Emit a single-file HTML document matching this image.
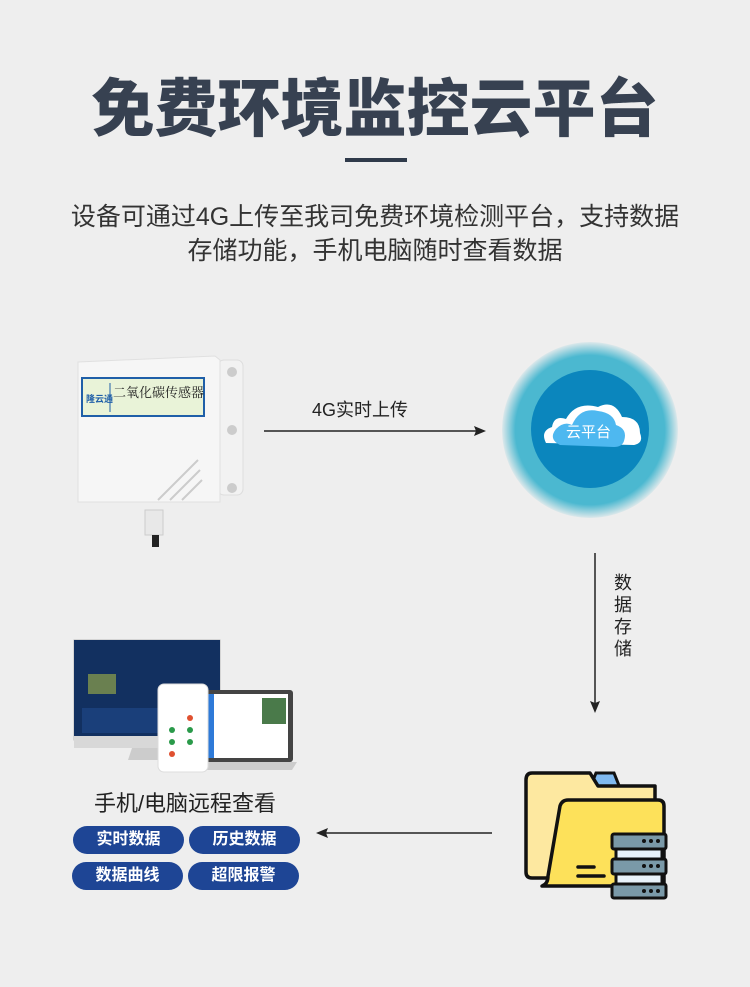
<!DOCTYPE html><html><head><meta charset="utf-8"><style>
body{margin:0;width:750px;height:987px;background:#eeeeee;position:relative;overflow:hidden;font-family:"Liberation Sans","Noto Sans CJK SC",sans-serif}
.a{position:absolute}
.btn{position:absolute;width:111px;height:28px;border-radius:14px;background:#1e4595;color:#fff;font-size:16px;font-weight:bold;text-align:center;line-height:28px}
</style></head><body>
<div class="a" style="left:0;width:750px;top:65px;text-align:center;font-size:63px;font-weight:900;color:#374151;line-height:90px">免费环境监控云平台</div>
<div class="a" style="left:345px;top:158px;width:62px;height:4px;background:#2f3a4a"></div>
<div class="a" style="left:0;width:750px;top:200px;text-align:center;font-size:25px;color:#333;line-height:34px;white-space:nowrap">设备可通过4G上传至我司免费环境检测平台，支持数据<br>存储功能，手机电脑随时查看数据</div>

<!-- sensor -->
<svg class="a" style="left:70px;top:350px" width="180" height="200">
<rect x="75" y="160" width="18" height="25" fill="#e8e8e8" stroke="#ccc"/>
<rect x="82" y="185" width="7" height="12" fill="#222"/>
<rect x="148" y="10" width="25" height="135" rx="6" fill="#f2f2f2" stroke="#ddd"/>
<circle cx="162" cy="22" r="5" fill="#ccc"/><circle cx="162" cy="80" r="5" fill="#ccc"/><circle cx="162" cy="138" r="5" fill="#ccc"/>
<path d="M8 12 L145 6 L150 10 L150 152 L8 152 Z" fill="#f6f6f6" stroke="#e0e0e0"/>
<rect x="12" y="28" width="122" height="38" fill="#e9f3d8" stroke="#1f5fa8" stroke-width="2"/>
<text x="16" y="52" font-size="9" fill="#1f5fa8" font-weight="bold">隆云通</text>
<line x1="40" y1="33" x2="40" y2="62" stroke="#1f5fa8"/>
<text x="43" y="47" font-size="13" font-family="Noto Serif CJK SC,serif" fill="#222">二氧化碳传感器</text>
<path d="M88 150 L128 110 M100 150 L130 120 M112 150 L132 130" stroke="#ccc" stroke-width="2"/>
</svg>

<div class="a" style="left:312px;top:396px;font-size:18px;color:#222">4G实时上传</div>
<svg class="a" style="left:264px;top:424px" width="226" height="14"><line x1="0" y1="7" x2="216" y2="7" stroke="#222" stroke-width="1.5"/><path d="M222 7 L210 2 L212 7 L210 12Z" fill="#222"/></svg>

<!-- cloud -->
<div class="a" style="left:502px;top:342px;width:176px;height:176px;border-radius:50%;background:radial-gradient(circle,#4bb8d0 60%,rgba(75,184,208,0) 72%)"></div>
<div class="a" style="left:531px;top:370px;width:118px;height:118px;border-radius:50%;background:#0b86bd"></div>
<svg class="a" style="left:536px;top:395px" width="112" height="60">
<path d="M10 48 Q4 36 16 32 Q18 20 30 24 Q40 6 62 12 Q78 4 86 22 Q104 22 104 38 Q108 48 98 50 Z" fill="#fff"/>
<path d="M24 50 Q12 44 20 34 Q28 26 36 30 Q44 12 62 16 Q78 18 80 30 Q92 34 88 46 Q86 52 78 52 Z" fill="#4eb8f0"/>
<text x="30" y="42" font-size="15" fill="#fff">云平台</text>
</svg>

<!-- vertical arrow -->
<svg class="a" style="left:588px;top:553px" width="14" height="162"><line x1="7" y1="0" x2="7" y2="150" stroke="#222" stroke-width="1.5"/><path d="M7 160 L2 148 L7 150 L12 148Z" fill="#222"/></svg>
<div class="a" style="left:614px;top:572px;width:20px;font-size:18px;line-height:22px;color:#222">数据存储</div>

<!-- folder -->
<svg class="a" style="left:520px;top:768px" width="155" height="132">
<path d="M76 5 L94 5 L100 20 L70 20Z" fill="#7fb9f0" stroke="#111" stroke-width="3"/>
<path d="M12 5 L70 5 L78 18 L135 18 L135 110 L12 110 Q6 110 6 104 L6 12 Q6 5 12 5Z" fill="#fde8a0" stroke="#111" stroke-width="3.5" stroke-linejoin="round"/>
<path d="M48 32 L138 32 Q144 32 144 38 L144 118 L22 118 Q28 116 28 108 L40 38 Q42 32 48 32Z" fill="#fde15a" stroke="#111" stroke-width="3.5" stroke-linejoin="round"/>
<path d="M58 99 L74 99 M58 108 L84 108" stroke="#111" stroke-width="3.5" stroke-linecap="round"/>
<rect x="92" y="66" width="54" height="15" rx="2" fill="#7a99a8" stroke="#111" stroke-width="3"/>
<rect x="96" y="81" width="46" height="10" fill="#e8f2fa" stroke="#111" stroke-width="3"/>
<rect x="92" y="91" width="54" height="15" rx="2" fill="#7a99a8" stroke="#111" stroke-width="3"/>
<rect x="96" y="106" width="46" height="10" fill="#e8f2fa" stroke="#111" stroke-width="3"/>
<rect x="92" y="116" width="54" height="14" rx="2" fill="#7a99a8" stroke="#111" stroke-width="3"/>
<g fill="#111"><circle cx="124" cy="73" r="2"/><circle cx="131" cy="73" r="2"/><circle cx="138" cy="73" r="2"/><circle cx="124" cy="98" r="2"/><circle cx="131" cy="98" r="2"/><circle cx="138" cy="98" r="2"/><circle cx="124" cy="123" r="2"/><circle cx="131" cy="123" r="2"/><circle cx="138" cy="123" r="2"/></g>
</svg>

<svg class="a" style="left:316px;top:826px" width="178" height="14"><line x1="8" y1="7" x2="176" y2="7" stroke="#222" stroke-width="1.5"/><path d="M0 7 L12 2 L10 7 L12 12Z" fill="#222"/></svg>

<!-- devices -->
<svg class="a" style="left:72px;top:638px" width="225" height="135">
<rect x="2" y="2" width="146" height="100" fill="#0d1a3a" stroke="#bbb"/>
<rect x="2" y="2" width="146" height="96" fill="#123060"/>
<rect x="16" y="36" width="28" height="20" fill="#6a8050"/>
<rect x="10" y="70" width="130" height="25" fill="#1a3f7a"/>
<rect x="2" y="98" width="146" height="12" fill="#d8d8d8"/>
<path d="M60 110 L90 110 L94 122 L56 122Z" fill="#ccc"/>
<rect x="125" y="52" width="96" height="72" rx="3" fill="#444"/>
<rect x="130" y="56" width="86" height="64" fill="#fff"/>
<rect x="130" y="56" width="12" height="64" fill="#2e7ad8"/>
<rect x="190" y="60" width="24" height="26" fill="#4a7a4a"/>
<path d="M120 124 L225 124 L220 132 L125 132Z" fill="#ccc"/>
<rect x="86" y="46" width="50" height="88" rx="6" fill="#fff" stroke="#ddd"/>
<g fill="#2a9a4a"><circle cx="100" cy="92" r="3"/><circle cx="118" cy="92" r="3"/><circle cx="100" cy="104" r="3"/><circle cx="118" cy="104" r="3"/></g>
<g fill="#e05030"><circle cx="118" cy="80" r="3"/><circle cx="100" cy="116" r="3"/></g>
</svg>
<div class="a" style="left:60px;top:786px;width:250px;text-align:center;font-size:22px;color:#222;white-space:nowrap">手机/电脑远程查看</div>
<div class="btn" style="left:73px;top:826px">实时数据</div>
<div class="btn" style="left:189px;top:826px">历史数据</div>
<div class="btn" style="left:72px;top:862px">数据曲线</div>
<div class="btn" style="left:188px;top:862px">超限报警</div>
</body></html>
